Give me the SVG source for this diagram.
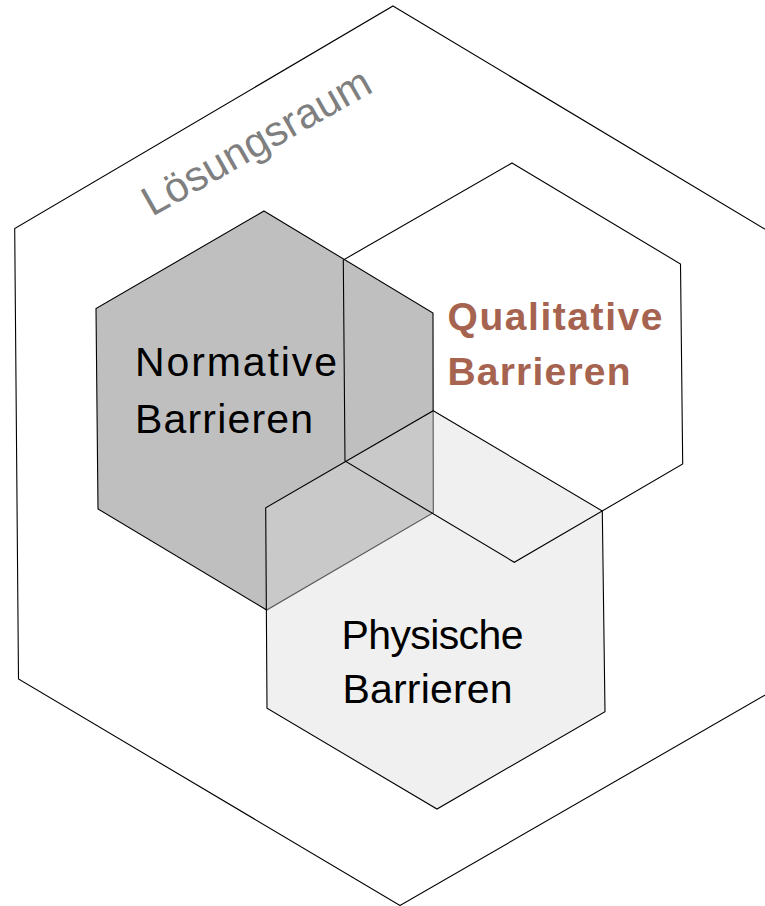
<svg xmlns="http://www.w3.org/2000/svg" width="765" height="906" viewBox="0 0 765 906">
<style>
.hex{stroke:#000;stroke-width:1.1;stroke-linejoin:miter}
.lbl{font-family:"Liberation Sans",Arial,sans-serif;font-size:41px;fill:#000}
.q{font-family:"Liberation Sans",Arial,sans-serif;font-size:39px;font-weight:bold;fill:#A66450}
.room{font-family:"Liberation Sans",Arial,sans-serif;font-size:42px;fill:#7F7F7F}
</style>
<rect width="765" height="906" fill="#fff"/>
<g id="loesungsraum">
<polygon class="hex" fill="none" points="393,6 768,231 772,691 400,905.5 18.5,679 14.7,228.5"/>
<text class="room" x="152" y="217" textLength="256" transform="rotate(-29.5 152 217)">Lösungsraum</text>
</g>
<g id="normative">
<polygon class="hex" fill="#BFBFBF" points="264,211 433,313 433.3,512.7 266.7,610 98,509 96,308.5"/>
<text class="lbl" x="135" y="376" textLength="202">Normative</text>
<text class="lbl" x="135" y="433" textLength="178">Barrieren</text>
</g>
<g id="physische">
<polygon class="hex" fill="#D9D9D9" fill-opacity="0.4" points="433.3,410.7 602.3,511 605,711.7 437,809 267,708.3 265.7,507.7"/>
<text class="lbl" x="341.5" y="648.5" textLength="182">Physische</text>
<text class="lbl" x="342.5" y="703" textLength="170">Barrieren</text>
</g>
<g id="qualitative">
<polygon class="hex" fill="none" points="512,163 680.5,264 682.7,464 514.3,562.3 345,461 343.3,260"/>
<text class="q" x="447.5" y="330" textLength="215">Qualitative</text>
<text class="q" x="447.5" y="385" textLength="183">Barrieren</text>
</g>
<g id="connectors"/>
</svg>
